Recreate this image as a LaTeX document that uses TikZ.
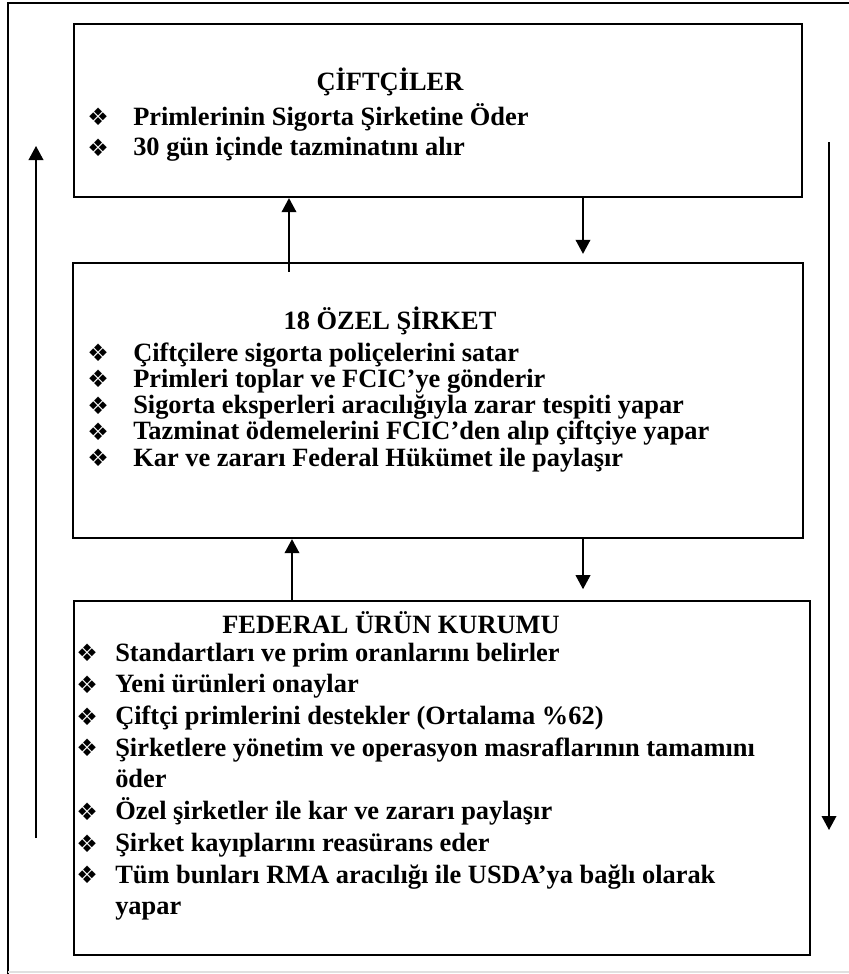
\documentclass[tikz,border=0pt]{standalone}
\usepackage{fontspec}
\setmainfont{Liberation Serif}
\newfontfamily\dingfont{DejaVu Sans}
\usetikzlibrary{positioning, arrows.meta}

\newcommand{\bul}{\raisebox{-0.5pt}{\dingfont\fontsize{18}{18}\selectfont ❖}}
\newcommand{\itm}[1]{\makebox[34.5pt][l]{\bul}#1}
\newcommand{\itmb}[1]{\makebox[29.25pt][l]{\bul}#1}
\newcommand{\cont}[1]{\makebox[29.25pt][l]{}#1}

\begin{document}
\begin{tikzpicture}[
    x=0.75pt, y=-0.75pt,
    box/.style={draw, rectangle, line width=1.7pt, inner sep=0pt},
    arrow/.style={-{Triangle[length=10.5pt, width=11pt]}, line width=1.1pt},
    title/.style={font=\fontsize{19.8}{23}\selectfont\bfseries, anchor=base, inner sep=0pt},
    list/.style={font=\fontsize{19.8}{23}\selectfont\bfseries, anchor=base west, inner sep=0pt}
]
    \useasboundingbox (0,0) rectangle (849,974);

    % Cadre
    \draw[line width=2pt] (8,974) -- (8,3) -- (849,3);
    \draw[black!12, line width=1pt] (8,972) -- (849,972);

    % Ciftciler
    \node[box, minimum width=546pt, minimum height=129.75pt] (ciftci) at (438,110.5) {};
    \node[title] (tciftci) at (390,90) {ÇİFTÇİLER};
    \node[list] (lciftci) at (87,125) {%
        \begin{tabular}[t]{@{}l@{}}
        \itm{Primlerinin Sigorta Şirketine Öder}\\
        \itm{30 gün içinde tazminatını alır}
        \end{tabular}};

    % Ozel sirketler
    \node[box, minimum width=547.5pt, minimum height=206.25pt] (ozel) at (438,400.5) {};
    \node[title] (tozel) at (390,329) {18 ÖZEL ŞİRKET};
    \node[list, font=\fontsize{19.8}{19.5}\selectfont\bfseries] (lozel) at (87,361) {%
        \begin{tabular}[t]{@{}l@{}}
        \itm{Çiftçilere sigorta poliçelerini satar}\\
        \itm{Primleri toplar ve FCIC’ye gönderir}\\
        \itm{Sigorta eksperleri aracılığıyla zarar tespiti yapar}\\
        \itm{Tazminat ödemelerini FCIC’den alıp çiftçiye yapar}\\
        \itm{Kar ve zararı Federal Hükümet ile paylaşır}
        \end{tabular}};

    % Federal urun kurumu
    \node[box, minimum width=552pt, minimum height=265.5pt] (fcic) at (442,778) {};
    \node[title] (tfcic) at (391,633) {FEDERAL ÜRÜN KURUMU};
    \node[list, font=\fontsize{19.8}{23.8}\selectfont\bfseries] (lfcic) at (76,661) {%
        \begin{tabular}[t]{@{}l@{}}
        \itmb{Standartları ve prim oranlarını belirler}\\
        \itmb{Yeni ürünleri onaylar}\\
        \itmb{Çiftçi primlerini destekler (Ortalama \%62)}\\
        \itmb{Şirketlere yönetim ve operasyon masraflarının tamamını}\\
        \cont{öder}\\
        \itmb{Özel şirketler ile kar ve zararı paylaşır}\\
        \itmb{Şirket kayıplarını reasürans eder}\\
        \itmb{Tüm bunları RMA aracılığı ile USDA’ya bağlı olarak}\\
        \cont{yapar}
        \end{tabular}};

    % Oklar
    \coordinate (upx) at (289,0);
    \coordinate (upy) at (292,0);
    \coordinate (dnx) at (583,0);
    \draw[arrow] ([yshift=-7.5pt]ozel.north -| upx) -- (ciftci.south -| upx);
    \draw[arrow] (ciftci.south -| dnx) -- ([yshift=6pt]ozel.north -| dnx);
    \draw[arrow] (fcic.north -| upy) -- (ozel.south -| upy);
    \draw[arrow] (ozel.south -| dnx) -- ([yshift=8pt]fcic.north -| dnx);

    % Dis oklar
    \coordinate (lbot) at (36,838);
    \coordinate (ltop) at (36,146);
    \coordinate (rtop) at (829,142);
    \coordinate (rbot) at (829,830);
    \draw[arrow] (lbot) -- (ltop);
    \draw[arrow] (rtop) -- (rbot);
\end{tikzpicture}
\end{document}
